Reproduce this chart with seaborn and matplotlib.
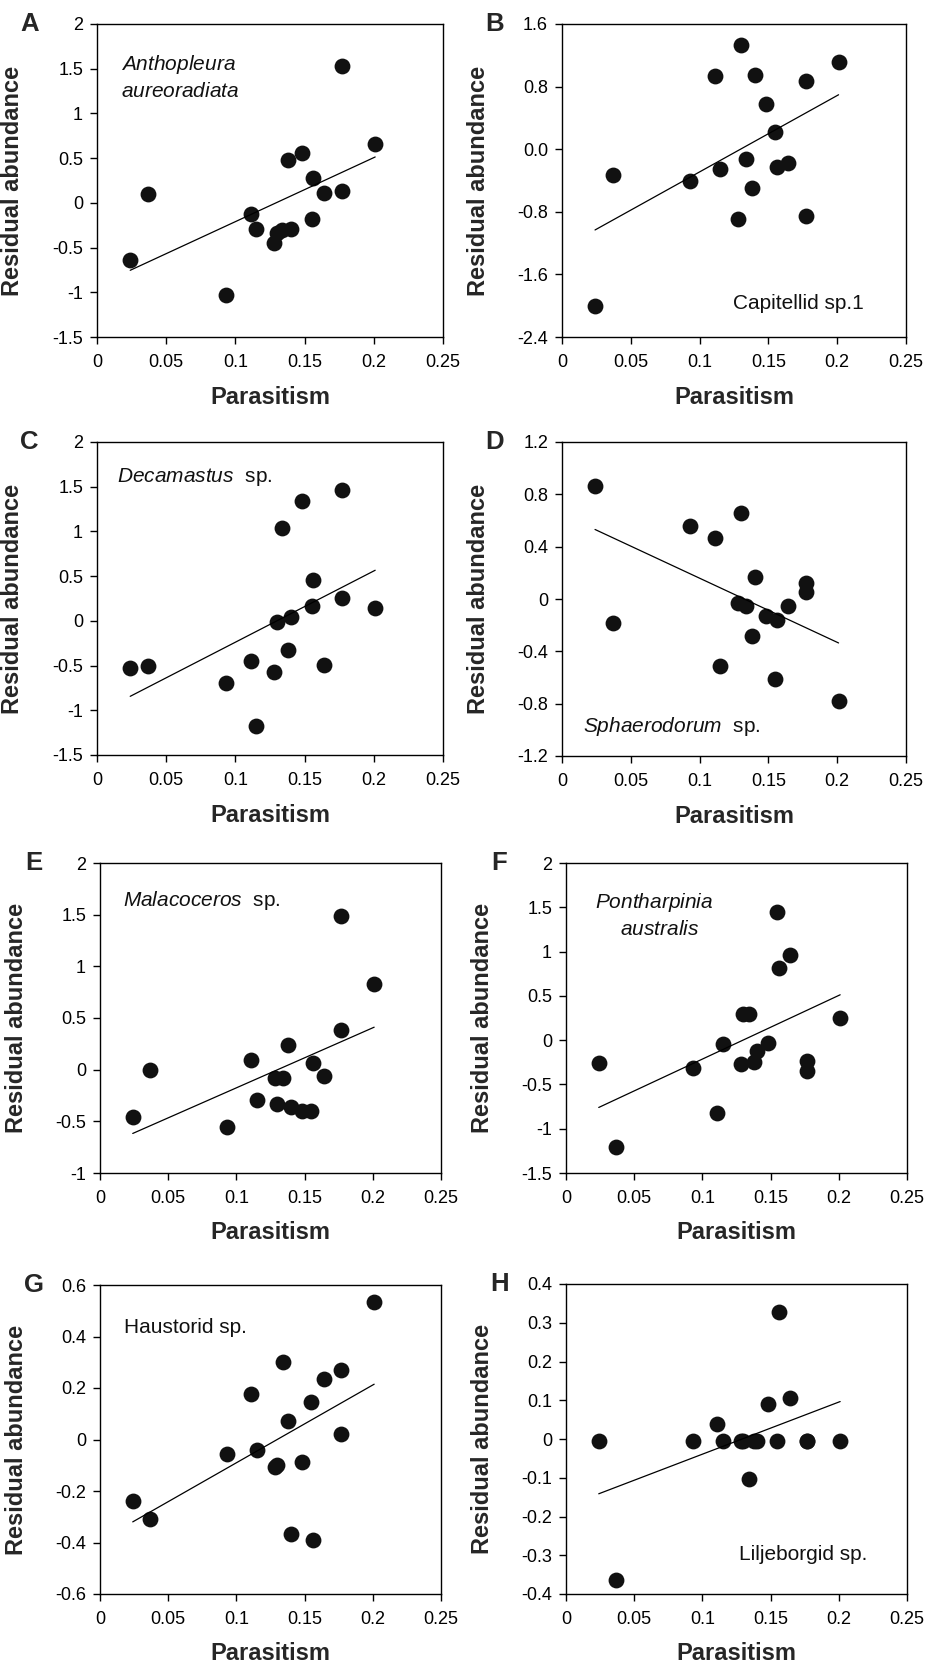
import seaborn as sns
import matplotlib.pyplot as plt

# Parasitism per site (same sites in every panel)
parasitism = [0.024, 0.037, 0.093, 0.111, 0.115, 0.128, 0.130, 0.134, 0.138,
              0.140, 0.148, 0.155, 0.156, 0.164, 0.177, 0.177, 0.201]

# Residual abundance of each taxon, same site order as parasitism
resid_a = [-0.64, 0.10, -1.03, -0.12, -0.29, -0.45, -0.34, -0.30, 0.48,
           -0.29, 0.56, -0.18, 0.28, 0.11, 0.13, 1.53, 0.66]
resid_b = [-2.00, -0.33, -0.41, 0.93, -0.25, -0.89, 1.33, -0.13, -0.50,
           0.95, 0.58, 0.22, -0.23, -0.18, 0.87, -0.86, 1.12]
resid_c = [-0.53, -0.51, -0.69, -0.45, -1.18, -0.57, -0.01, 1.04, -0.33,
           0.04, 1.34, 0.17, 0.46, -0.49, 0.26, 1.46, 0.14]
resid_d = [0.86, -0.18, 0.56, 0.47, -0.51, -0.03, 0.66, -0.05, -0.28,
           0.17, -0.13, -0.61, -0.16, -0.05, 0.12, 0.055, -0.78]
resid_e = [-0.46, 0.00, -0.55, 0.09, -0.29, -0.08, -0.33, -0.08, 0.24,
           -0.36, -0.40, -0.40, 0.06, -0.06, 0.38, 1.49, 0.83]
resid_f = [-0.26, -1.21, -0.32, -0.82, -0.04, -0.27, 0.30, 0.29, -0.25,
           -0.12, -0.03, 1.45, 0.82, 0.96, -0.24, -0.35, 0.25]
resid_g = [-0.24, -0.31, -0.056, 0.177, -0.04, -0.107, -0.10, 0.30, 0.072,
           -0.367, -0.089, 0.147, -0.389, 0.235, 0.270, 0.021, 0.535]
resid_h = [-0.005, -0.363, -0.005, 0.040, -0.005, -0.005, -0.005, -0.102, -0.005,
           -0.005, 0.090, -0.005, 0.328, 0.106, -0.005, -0.005, -0.005]

# Tick values and labels
x_ticks = [0, 0.05, 0.1, 0.15, 0.2, 0.25]
x_ticklabels = ['0', '0.05', '0.1', '0.15', '0.2', '0.25']
yt_big = [-1.5, -1, -0.5, 0, 0.5, 1, 1.5, 2]
yl_big = ['-1.5', '-1', '-0.5', '0', '0.5', '1', '1.5', '2']
yt_b = [-2.4, -1.6, -0.8, 0.0, 0.8, 1.6]
yl_b = ['-2.4', '-1.6', '-0.8', '0.0', '0.8', '1.6']
yt_d = [-1.2, -0.8, -0.4, 0, 0.4, 0.8, 1.2]
yl_d = ['-1.2', '-0.8', '-0.4', '0', '0.4', '0.8', '1.2']
yt_e = [-1, -0.5, 0, 0.5, 1, 1.5, 2]
yl_e = ['-1', '-0.5', '0', '0.5', '1', '1.5', '2']
yt_g = [-0.6, -0.4, -0.2, 0, 0.2, 0.4, 0.6]
yl_g = ['-0.6', '-0.4', '-0.2', '0', '0.2', '0.4', '0.6']
yt_h = [-0.4, -0.3, -0.2, -0.1, 0, 0.1, 0.2, 0.3, 0.4]
yl_h = ['-0.4', '-0.3', '-0.2', '-0.1', '0', '0.1', '0.2', '0.3', '0.4']

letters = ['A', 'B', 'C', 'D', 'E', 'F', 'G', 'H']

#Set the style
sns.set_style("ticks")
plt.rcParams['font.family'] = ['Liberation Sans', 'DejaVu Sans']
plt.rcParams['axes.unicode_minus'] = False
plt.rcParams['mathtext.fontset'] = 'custom'
plt.rcParams['mathtext.it'] = 'Liberation Sans:italic'
plt.rcParams['mathtext.rm'] = 'Liberation Sans'

W, H = 933, 1662
fig = plt.figure(figsize=(W / 100, H / 100), dpi=100)

# panel boxes in pixels: left, top, width, height
boxes = [(97, 24, 346, 313), (562, 24, 344, 313),
         (97, 442, 346, 313), (562, 442, 344, 314),
         (100, 863, 341, 310), (566, 863, 341, 310),
         (100, 1285, 341, 309), (566, 1284, 341, 310)]

panels = [
    (resid_a, yt_big, yl_big, [(0.069, 0.872, r'$\mathit{Anthopleura}$'),
                               (0.069, 0.785, r'$\mathit{aureoradiata}$')]),
    (resid_b, yt_b, yl_b, [(0.497, 0.107, 'Capitellid sp.1')]),
    (resid_c, yt_big, yl_big, [(0.057, 0.889, r'$\mathit{Decamastus}$  sp.')]),
    (resid_d, yt_d, yl_d, [(0.061, 0.095, r'$\mathit{Sphaerodorum}$  sp.')]),
    (resid_e, yt_e, yl_e, [(0.066, 0.879, r'$\mathit{Malacoceros}$  sp.')]),
    (resid_f, yt_big, yl_big, [(0.084, 0.871, r'$\mathit{Pontharpinia}$'),
                               (0.159, 0.784, r'$\mathit{australis}$')]),
    (resid_g, yt_g, yl_g, [(0.070, 0.863, 'Haustorid sp.')]),
    (resid_h, yt_h, yl_h, [(0.507, 0.127, 'Liljeborgid sp.')]),
]

for (l, t, w, h), (resid, yt, yl, notes), letter in zip(boxes, panels, letters):
    ax = fig.add_axes([l / W, 1 - (t + h) / H, w / W, h / H])
    sns.regplot(x=parasitism, y=resid, ax=ax, ci=None, truncate=True,
                scatter_kws=dict(s=130, color='#111111', alpha=1, linewidths=0),
                line_kws=dict(color='black', lw=0.9))
    ax.set_xlim(0, 0.25)
    ax.set_ylim(yt[0], yt[-1])
    ax.set_xticks(x_ticks, x_ticklabels)
    ax.set_yticks(yt, yl)
    ax.tick_params(direction='out', length=5, width=1, labelsize=13,
                   colors='black', top=False, right=False)
    ax.tick_params(axis='x', pad=7)
    ax.tick_params(axis='y', pad=5)
    for sp in ax.spines.values():
        sp.set_linewidth(1)
        sp.set_color('black')
    ax.set_xlabel('Parasitism', fontsize=17, fontweight='bold')
    ax.set_ylabel('Residual abundance', fontsize=17, fontweight='bold')
    ax.xaxis.set_label_coords(0.5, -0.155)
    ax.yaxis.set_label_coords(-0.21, 0.5)
    for nx, ny, txt in notes:
        ax.text(nx, ny, txt, transform=ax.transAxes, fontsize=15,
                ha='left', va='center', color='#111111')
    ax.text(-0.195, 1.0, letter, transform=ax.transAxes, fontsize=18.5,
            fontweight='bold', ha='center', va='center')

fig.savefig('out.png', dpi=100)
